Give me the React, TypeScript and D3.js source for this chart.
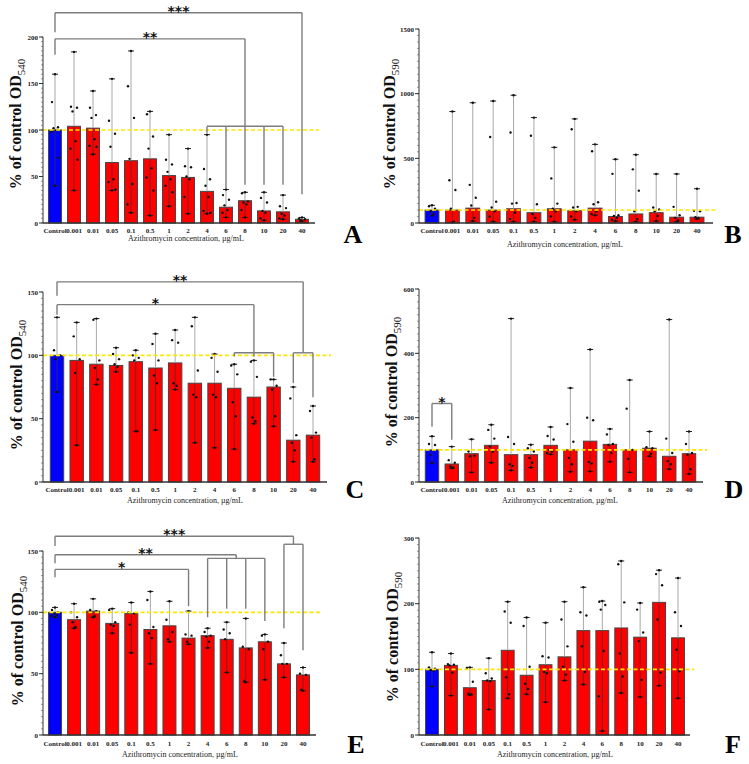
import * as d3 from 'd3';

const categories = ['Control', '0.001', '0.01', '0.05', '0.1', '0.5', '1', '2', '4', '6', '8', '10', '20', '40'];
const xTitle = 'Azithromycin concentration, \u00b5g/mL';

// Panel A (OD540)
const aMean = [100, 104, 102, 65, 67, 69, 51, 49, 34, 17, 24, 13, 12, 4];
const aMax = [160, 184, 142, 155, 185, 120, 95, 80, 95, 36, 33, 33, 30, 6];
const aMin = [40, 35, 74, 35, 11, 8, 18, 10, 10, 6, 6, 3, 4, 2];
const aPoints = [
  [160, 130, 103, 102, 100, 98, 70, 40],
  [184, 125, 124, 120, 88, 80, 68, 35],
  [142, 124, 116, 113, 90, 83, 82, 74],
  [155, 110, 96, 82, 47, 44, 36, 35],
  [185, 147, 113, 69, 42, 20, 11],
  [120, 117, 93, 80, 59, 49, 35, 8],
  [95, 68, 63, 55, 47, 40, 33, 18],
  [80, 61, 60, 50, 47, 28, 10],
  [95, 58, 47, 40, 28, 13, 11, 10],
  [36, 30, 25, 19, 14, 11, 6],
  [33, 32, 23, 22, 20, 14, 6],
  [33, 27, 22, 13, 11, 5, 3],
  [30, 18, 16, 10, 8, 5, 4],
  [6, 5, 4, 3, 2],
];

// Panel B (OD590)
const bMean = [100, 100, 115, 100, 110, 80, 110, 95, 115, 50, 70, 80, 45, 45];
const bMax = [137, 862, 930, 943, 988, 815, 585, 805, 608, 493, 528, 379, 379, 265];
const bMin = [57, 5, 15, 10, 10, 10, 10, 25, 60, 15, 10, 15, 10, 30];
const bPoints = [
  [137, 130, 110, 90, 70, 57],
  [862, 330, 255, 110, 10, 5],
  [930, 295, 195, 135, 40, 15],
  [943, 665, 165, 120, 90, 50, 10],
  [988, 700, 155, 150, 80, 30, 10],
  [815, 675, 145, 70, 40, 10],
  [585, 345, 150, 110, 90, 50, 10],
  [805, 725, 125, 120, 90, 50, 25],
  [608, 555, 160, 145, 90, 70, 60],
  [493, 380, 60, 55, 40, 25, 15],
  [528, 415, 250, 90, 30, 10],
  [379, 120, 105, 90, 55, 15],
  [379, 125, 60, 40, 20, 10],
  [265, 95, 90, 45, 40, 30],
];

// Panel C (OD540)
const cMean = [100, 96, 93, 92, 95, 90, 94, 78, 78, 74, 67, 75, 33, 37];
const cMax = [130, 126, 129, 106, 104, 117, 120, 130, 101, 93, 96, 81, 75, 60];
const cMin = [71, 29, 77, 87, 40, 41, 73, 31, 27, 26, 46, 44, 16, 16];
const cPoints = [
  [130, 104, 100, 97, 71],
  [126, 115, 97, 86, 29],
  [129, 128, 96, 90, 81, 77],
  [106, 101, 97, 93, 91, 87],
  [104, 100, 98, 96, 40, 40],
  [117, 109, 96, 84, 78, 41],
  [120, 112, 110, 78, 76, 73],
  [130, 123, 88, 69, 67, 31],
  [101, 98, 87, 69, 67, 27],
  [93, 92, 85, 63, 52, 26],
  [96, 95, 83, 51, 48, 46],
  [81, 81, 76, 73, 52, 44],
  [75, 66, 37, 31, 25, 16],
  [60, 56, 39, 35, 18, 16],
];

// Panel D (OD590)
const dMean = [100, 56, 88, 114, 85, 85, 114, 100, 127, 117, 100, 105, 80, 88];
const dMax = [142, 110, 133, 178, 508, 116, 171, 292, 412, 165, 317, 157, 505, 157];
const dMin = [59, 43, 30, 60, 36, 45, 86, 32, 33, 63, 30, 80, 40, 25];
const dPoints = [
  [142, 118, 115, 85, 59],
  [110, 68, 60, 48, 45, 43],
  [133, 95, 82, 80, 30],
  [178, 162, 135, 110, 95, 60],
  [508, 140, 118, 55, 50, 36],
  [116, 105, 95, 75, 60, 45],
  [171, 143, 132, 100, 95, 90, 86],
  [292, 180, 125, 75, 55, 32],
  [412, 200, 192, 62, 58, 33],
  [165, 148, 118, 115, 90, 63],
  [317, 228, 100, 72, 30],
  [157, 108, 105, 100, 88, 80],
  [505, 135, 90, 65, 55, 40],
  [157, 118, 90, 85, 40, 25],
];

// Panel E (OD540)
const eMean = [100, 94, 101, 91, 99, 86, 89, 79, 81, 78, 71, 76, 58, 49];
const eMax = [104, 107, 111, 103, 108, 117, 109, 101, 87, 92, 95, 82, 75, 55];
const eMin = [96, 87, 96, 83, 67, 58, 76, 74, 71, 51, 43, 45, 47, 36];
const ePoints = [
  [104, 102, 100, 99, 98, 97, 96],
  [107, 100, 96, 92, 88, 87],
  [111, 102, 101, 100, 97, 96],
  [103, 102, 92, 90, 89, 83],
  [108, 100, 99, 90, 67],
  [117, 110, 88, 83, 79, 58],
  [109, 94, 84, 78, 76],
  [101, 82, 81, 76, 74],
  [87, 84, 81, 80, 76, 71],
  [92, 86, 83, 78, 51],
  [95, 72, 70, 44, 43],
  [82, 81, 76, 70, 45],
  [75, 65, 58, 58, 47],
  [55, 50, 49, 37, 36],
];

// Panel F (OD590)
const fMean = [100, 106, 72, 83, 129, 91, 107, 119, 159, 159, 163, 149, 202, 148];
const fMax = [126, 124, 103, 117, 203, 179, 171, 203, 225, 204, 265, 201, 251, 239];
const fMin = [74, 60, 61, 39, 56, 62, 50, 83, 77, 6, 64, 58, 75, 56];
const fPoints = [
  [126, 103, 101, 99, 98, 74],
  [124, 108, 107, 106, 95, 60],
  [103, 102, 81, 63, 62, 61],
  [117, 94, 86, 83, 82, 39],
  [203, 188, 171, 88, 62, 56],
  [179, 166, 104, 78, 70, 62],
  [171, 120, 118, 96, 94, 50],
  [203, 176, 135, 104, 92, 83],
  [225, 187, 182, 135, 96, 77],
  [204, 203, 198, 191, 128, 59, 6],
  [265, 260, 202, 124, 89, 64],
  [201, 191, 156, 143, 84, 58],
  [251, 245, 228, 176, 95, 75],
  [239, 187, 166, 130, 97, 56],
];

// significance brackets: legs are [category index, lower end value]
type Bracket = { label: string; top: number; legs: [number, number][] };

const aBrackets: Bracket[] = [
  { label: '***', top: 226, legs: [[0, 205], [13, 31]] },
  { label: '**', top: 198, legs: [[0, 181], [10, 104]] },
  { label: '', top: 104, legs: [[8, 97], [9, 37], [10, 41], [11, 41], [12, 41]] },
];
const cBrackets: Bracket[] = [
  { label: '**', top: 158, legs: [[0, 147], [12.5, 102]] },
  { label: '', top: 102, legs: [[12, 78], [13, 67]] },
  { label: '*', top: 140, legs: [[0, 132], [10, 102]] },
  { label: '', top: 102, legs: [[9, 99], [10, 99], [11, 83]] },
];
const dBrackets: Bracket[] = [{ label: '*', top: 244, legs: [[0, 172], [1, 131]] }];
const eBrackets: Bracket[] = [
  { label: '***', top: 162, legs: [[0, 154], [12.5, 155.5]] },
  { label: '', top: 155.5, legs: [[12, 87], [13, 69]] },
  { label: '**', top: 147, legs: [[0, 140], [9.5, 144]] },
  { label: '', top: 144, legs: [[8, 96], [9, 103], [10, 103], [11, 93]] },
  { label: '*', top: 135, legs: [[0, 128.5], [7, 105]] },
];

const jitter = [0, -3, 3, -1.5, 1.5, -3.5, 3.5, -2.5, 2.5];

interface Layout {
  ax: number; axEnd: number; y0: number; yTop: number; yMax: number; major: number;
  x0: number; x1: number; tickY: number; titleY: number; titleX: number;
  ylabX: number; ylabY: number; letterX: number; letterY: number; sub: string; letter: string;
}

interface PanelProps {
  layout: Layout;
  mean: number[]; max: number[]; min: number[]; points: number[][];
  brackets: Bracket[];
}

function Panel({ layout: p, mean, max, min, points, brackets }: PanelProps) {
  const x = d3.scaleLinear().domain([0, categories.length - 1]).range([p.x0, p.x1]);
  const y = d3.scaleLinear().domain([0, p.yMax]).range([p.y0, p.yTop]);
  const bw = (x(1) - x(0)) * 0.68;
  const majors = d3.range(0, p.yMax + 1e-6, p.major);
  const minors = d3.range(0, p.yMax + 1e-6, p.major / 10);

  return (
    <g>
      {/* bars */}
      {mean.map((m, i) => (
        <rect key={'b' + i} x={x(i) - bw / 2} y={y(m)} width={bw} height={y(0) - y(m)}
          fill={i === 0 ? '#0000ff' : '#ff0000'} stroke="#444" strokeWidth={1} />
      ))}
      {/* range whiskers */}
      {mean.map((m, i) => (
        <g key={'w' + i}>
          <line x1={x(i)} x2={x(i)} y1={y(max[i])} y2={y(m)} stroke="#a8a8a8" strokeWidth={1} />
          <line x1={x(i)} x2={x(i)} y1={y(m)} y2={y(min[i])} stroke="#333" strokeWidth={0.7} />
          <line x1={x(i) - 3} x2={x(i) + 3} y1={y(max[i])} y2={y(max[i])} stroke="#222" strokeWidth={1} />
          <line x1={x(i) - 3} x2={x(i) + 3} y1={y(min[i])} y2={y(min[i])} stroke="#222" strokeWidth={1} />
        </g>
      ))}
      {/* individual points */}
      {points.map((pts, i) =>
        pts.map((v, j) => {
          const edge = j === 0 || j === pts.length - 1;
          const dx = edge ? 0 : jitter[j % jitter.length];
          return <circle key={`p${i}-${j}`} cx={x(i) + dx} cy={y(v)} r={1.2} fill="#111" />;
        })
      )}
      {/* 100% reference */}
      <line x1={p.ax} x2={p.axEnd + 4} y1={y(100)} y2={y(100)} stroke="#ffe600" strokeWidth={1.6} strokeDasharray="4,2.5" />
      {/* brackets */}
      {brackets.map((b, k) => {
        const xs = b.legs.map(l => x(l[0]));
        const xl = d3.min(xs) as number;
        const xr = d3.max(xs) as number;
        return (
          <g key={'k' + k} stroke="#7d7d7d" strokeWidth={1.4} fill="none">
            <line x1={xl} x2={xr} y1={y(b.top)} y2={y(b.top)} />
            {b.legs.map((l, j) => (
              <line key={j} x1={x(l[0])} x2={x(l[0])} y1={y(b.top)} y2={y(l[1])} />
            ))}
            {b.label && (
              <text x={(xl + xr) / 2} y={y(b.top) + 3} textAnchor="middle" fontSize={14} fontWeight="bold"
                fontFamily="'DejaVu Sans', sans-serif" fill="#111" stroke="none">{b.label}</text>
            )}
          </g>
        );
      })}
      {/* y axis */}
      <line x1={p.ax} x2={p.ax} y1={y(0)} y2={y(p.yMax)} stroke="#333" strokeWidth={1} />
      {minors.map((t, i) => (
        <line key={'m' + i} x1={p.ax - 2} x2={p.ax} y1={y(t)} y2={y(t)} stroke="#555" strokeWidth={0.6} />
      ))}
      {majors.map(t => (
        <g key={'t' + t}>
          <line x1={p.ax - 4} x2={p.ax} y1={y(t)} y2={y(t)} stroke="#333" strokeWidth={1} />
          <text x={p.ax - 5} y={y(t) + 2.5} textAnchor="end" fontSize={7} fontWeight="bold" fill="#222">{t}</text>
        </g>
      ))}
      {/* x axis */}
      <line x1={p.ax} x2={p.axEnd} y1={y(0)} y2={y(0)} stroke="#333" strokeWidth={1.5} />
      {categories.map((c, i) => (
        <text key={'c' + i} x={x(i)} y={p.tickY} textAnchor="middle" fontSize={7} fontWeight="bold" fill="#222">{c}</text>
      ))}
      <text x={p.titleX} y={p.titleY} textAnchor="middle" fontSize={8} fill="#222">{xTitle}</text>
      <text transform={`translate(${p.ylabX},${p.ylabY}) rotate(-90)`} textAnchor="middle" fontSize={16}
        fontWeight="bold" fill="#111">
        % of control OD<tspan fontSize={11} fontWeight="normal" dy={4}>{p.sub}</tspan>
      </text>
      <text x={p.letterX} y={p.letterY} textAnchor="middle" fontSize={26} fontWeight="bold" fill="#000">{p.letter}</text>
    </g>
  );
}

const layouts: Record<string, Layout> = {
  A: { ax: 43, axEnd: 315, y0: 223, yTop: 37, yMax: 200, major: 50, x0: 55, x1: 302, tickY: 233, titleY: 241, titleX: 186, ylabX: 21, ylabY: 124, letterX: 353, letterY: 243, sub: '540', letter: 'A' },
  B: { ax: 419, axEnd: 713, y0: 223, yTop: 29, yMax: 1500, major: 500, x0: 432, x1: 697, tickY: 233, titleY: 247, titleX: 565, ylabX: 395, ylabY: 124, letterX: 733, letterY: 243, sub: '590', letter: 'B' },
  C: { ax: 43, axEnd: 327, y0: 482, yTop: 292, yMax: 150, major: 50, x0: 57, x1: 313, tickY: 491.5, titleY: 503, titleX: 185, ylabX: 22, ylabY: 385, letterX: 355, letterY: 498, sub: '540', letter: 'C' },
  D: { ax: 419, axEnd: 703, y0: 482, yTop: 289, yMax: 600, major: 200, x0: 432, x1: 689, tickY: 491.5, titleY: 503, titleX: 560, ylabX: 397, ylabY: 382, letterX: 734, letterY: 498, sub: '590', letter: 'D' },
  E: { ax: 43, axEnd: 316, y0: 735, yTop: 551, yMax: 150, major: 50, x0: 55, x1: 303, tickY: 745.5, titleY: 757, titleX: 180, ylabX: 22.5, ylabY: 641, letterX: 356, letterY: 753, sub: '540', letter: 'E' },
  F: { ax: 419, axEnd: 690, y0: 735, yTop: 538, yMax: 300, major: 100, x0: 432, x1: 678, tickY: 745.5, titleY: 757, titleX: 555, ylabX: 398, ylabY: 637, letterX: 733, letterY: 753, sub: '590', letter: 'F' },
};

export default function App() {
  return (
    <svg width={749} height={764} style={{ position: 'absolute', left: 0, top: 0, background: '#fff' }}
      fontFamily="'Liberation Serif', 'DejaVu Serif', serif">
      <rect width={749} height={764} fill="#fff" />
      <Panel layout={layouts.A} mean={aMean} max={aMax} min={aMin} points={aPoints} brackets={aBrackets} />
      <Panel layout={layouts.B} mean={bMean} max={bMax} min={bMin} points={bPoints} brackets={[]} />
      <Panel layout={layouts.C} mean={cMean} max={cMax} min={cMin} points={cPoints} brackets={cBrackets} />
      <Panel layout={layouts.D} mean={dMean} max={dMax} min={dMin} points={dPoints} brackets={dBrackets} />
      <Panel layout={layouts.E} mean={eMean} max={eMax} min={eMin} points={ePoints} brackets={eBrackets} />
      <Panel layout={layouts.F} mean={fMean} max={fMax} min={fMin} points={fPoints} brackets={[]} />
    </svg>
  );
}
